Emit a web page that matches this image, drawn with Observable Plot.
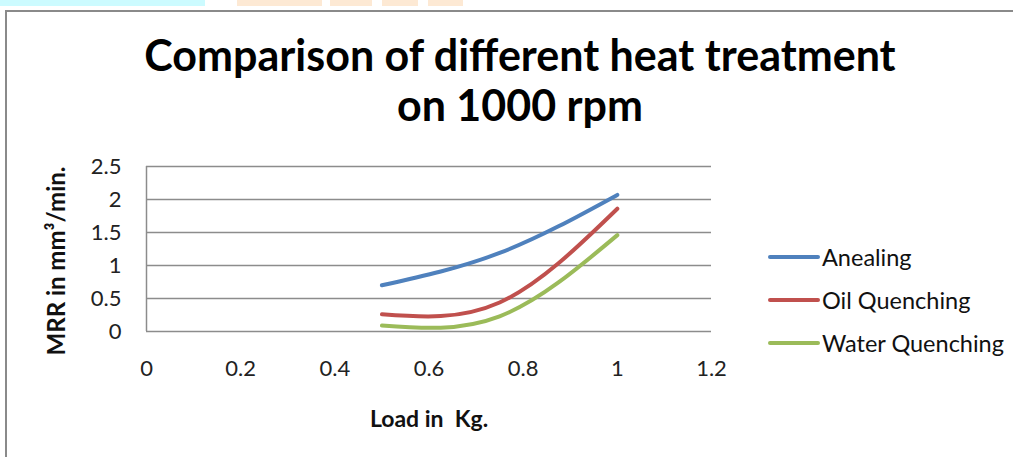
<!DOCTYPE html>
<html>
<head>
<meta charset="utf-8">
<script src="https://cdn.jsdelivr.net/npm/d3@7"></script>
<script src="https://cdn.jsdelivr.net/npm/@observablehq/plot@0.6"></script>
<style>
  html, body { margin: 0; padding: 0; background: #fff; }
  #wrap { position: relative; width: 1013px; height: 457px; overflow: hidden; font-family: Lato, "Open Sans", sans-serif; }
  #frame { position: absolute; left: 5px; top: 10px; width: 1020px; height: 460px; border: 2px solid #8a8a8a; box-sizing: border-box; }
  .deco { position: absolute; top: 0; height: 6px; }
  #title { position: absolute; left: 0; width: 1040px; top: 30px; text-align: center; font-weight: 700; font-size: 43px; line-height: 50px; color: #000; }
  #chart { position: absolute; left: 0; top: 0; }
  #chart svg g[aria-label="x-axis tick label"] text,
  #chart svg g[aria-label="y-axis tick label"] text { font-size: 22px; }
  #legend { position: absolute; left: 768px; top: 235px; }
  .item { display: flex; align-items: center; height: 43px; font-size: 23.5px; color: #111; }
  .swatch { width: 52px; height: 4px; border-radius: 2px; margin-right: 2px; }
</style>
</head>
<body>
<div id="wrap">
  <div class="deco" style="left:0;width:205px;background:#ccfbff"></div>
  <div class="deco" style="left:237px;width:85px;background:#fde9d4"></div>
  <div class="deco" style="left:330px;width:42px;background:#fde9d4"></div>
  <div class="deco" style="left:382px;width:36px;background:#fde9d4"></div>
  <div class="deco" style="left:428px;width:35px;background:#fde9d4"></div>
  <div id="frame"></div>
  <div id="chart"></div>
  <div id="title">Comparison of different heat treatment<br>on 1000 rpm</div>
  <div id="legend"></div>
</div>
<script>
const loads = [0.5, 0.75, 1.0];
const seriesNames = ["Anealing", "Oil Quenching", "Water Quenching"];
const anealing = [0.70, 1.19, 2.07];
const oilQuenching = [0.26, 0.44, 1.86];
const waterQuenching = [0.09, 0.23, 1.46];
const seriesColors = ["#4F81BD", "#C0504D", "#9BBB59"];
const xTicks = [0, 0.2, 0.4, 0.6, 0.8, 1.0, 1.2];
const yTicks = [0, 0.5, 1, 1.5, 2, 2.5];

const valueLists = [anealing, oilQuenching, waterQuenching];
const data = [];
seriesNames.forEach((name, i) => {
  loads.forEach((x, j) => data.push({series: name, load: x, mrr: valueLists[i][j]}));
});

const fmt = d => String(+(+d).toFixed(1));

const plot = Plot.plot({
  width: 1013,
  height: 457,
  marginLeft: 146,
  marginRight: 302,
  marginTop: 166,
  marginBottom: 126,
  style: {fontFamily: "Lato, 'Open Sans', sans-serif", fontSize: "22px", color: "#222", background: "transparent"},
  x: {domain: [0, 1.2], label: null},
  y: {domain: [0, 2.5], label: null},
  color: {domain: seriesNames, range: seriesColors},
  marks: [
    Plot.gridY(yTicks, {stroke: "#8c8c8c", strokeOpacity: 1, strokeWidth: 1.5}),
    Plot.ruleX([0], {stroke: "#8c8c8c", strokeWidth: 1.5}),
    Plot.axisX({ticks: xTicks, tickSize: 0, tickPadding: 29, tickFormat: fmt, label: null}),
    Plot.axisY({ticks: yTicks, tickSize: 0, tickPadding: 25, tickFormat: fmt, label: null}),
    Plot.line(data, {x: "load", y: "mrr", z: "series", stroke: "series", strokeWidth: 4, curve: "natural", strokeLinecap: "round"}),
    Plot.text(["Load in  Kg."], {frameAnchor: "bottom", dy: 95, fontWeight: "bold", fontSize: 23, fill: "#111"}),
    Plot.text(["MRR in mm³/min."], {frameAnchor: "left", dx: -89, dy: 12, rotate: -90, textAnchor: "middle", fontWeight: "bold", fontSize: 24, fill: "#111"})
  ]
});
document.getElementById("chart").appendChild(plot);

const legend = document.getElementById("legend");
seriesNames.forEach((name, i) => {
  const row = document.createElement("div");
  row.className = "item";
  const sw = document.createElement("div");
  sw.className = "swatch";
  sw.style.background = seriesColors[i];
  const lab = document.createElement("span");
  lab.textContent = name;
  row.appendChild(sw);
  row.appendChild(lab);
  legend.appendChild(row);
});
</script>
</body>
</html>
